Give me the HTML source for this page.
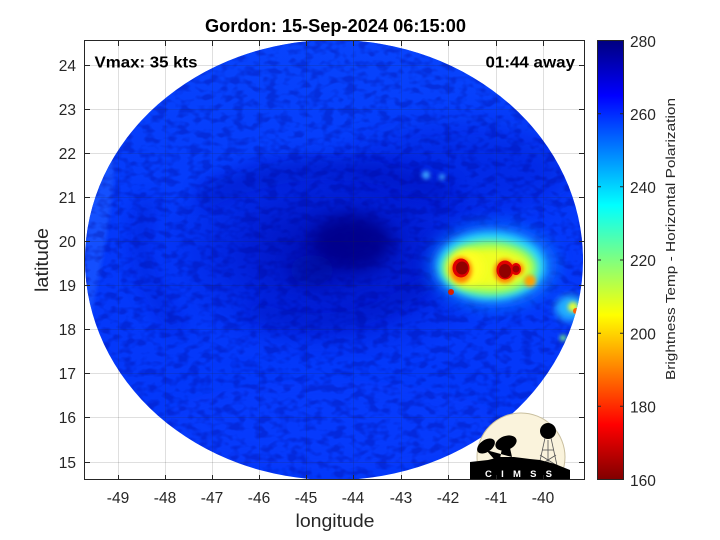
<!DOCTYPE html>
<html><head><meta charset="utf-8">
<style>
html,body{margin:0;padding:0;background:#fff;}
svg{display:block;}
text{font-family:"Liberation Sans",sans-serif;fill:#262626;}
</style></head><body>
<svg width="720" height="540" viewBox="0 0 720 540" xmlns="http://www.w3.org/2000/svg">
<defs>
<clipPath id="ax"><rect x="85" y="41" width="499" height="439"/></clipPath>
<clipPath id="disk"><ellipse cx="334" cy="260" rx="249" ry="220"/></clipPath>
<linearGradient id="cb" x1="0" y1="0" x2="0" y2="1">
 <stop offset="0" stop-color="#000080"/>
 <stop offset="0.125" stop-color="#0000ff"/>
 <stop offset="0.375" stop-color="#00ffff"/>
 <stop offset="0.625" stop-color="#ffff00"/>
 <stop offset="0.875" stop-color="#ff0000"/>
 <stop offset="1" stop-color="#800000"/>
</linearGradient>
<linearGradient id="topg" x1="0" y1="0" x2="0" y2="1">
 <stop offset="0" stop-color="#0a4cff" stop-opacity="0.6"/>
 <stop offset="0.3" stop-color="#0a4cff" stop-opacity="0.2"/>
 <stop offset="0.45" stop-color="#0a4cff" stop-opacity="0"/>
</linearGradient>
<radialGradient id="darkc" cx="0.5" cy="0.5" r="0.5">
 <stop offset="0" stop-color="#0006a0" stop-opacity="0.9"/>
 <stop offset="0.5" stop-color="#000cbc" stop-opacity="0.55"/>
 <stop offset="1" stop-color="#0014d0" stop-opacity="0"/>
</radialGradient>
<filter id="b2" x="-50%" y="-50%" width="200%" height="200%"><feGaussianBlur stdDeviation="2"/></filter>
<filter id="b4" x="-50%" y="-50%" width="200%" height="200%"><feGaussianBlur stdDeviation="4"/></filter>
<filter id="b8" x="-50%" y="-50%" width="200%" height="200%"><feGaussianBlur stdDeviation="8"/></filter>
<filter id="b14" x="-50%" y="-50%" width="200%" height="200%"><feGaussianBlur stdDeviation="14"/></filter>
<filter id="noise" filterUnits="userSpaceOnUse" x="80" y="35" width="510" height="450" color-interpolation-filters="sRGB">
 <feTurbulence type="fractalNoise" baseFrequency="0.09 0.13" numOctaves="2" seed="11"/>
 <feColorMatrix type="matrix" values="0 0 0 0 0  0 0 0 0 0  0 0 0 0 0.55  4 0 0 0 -1.8"/>
</filter>
</defs>

<g clip-path="url(#ax)">
<g clip-path="url(#disk)">
 <rect x="80" y="35" width="510" height="450" fill="#0438fa"/>
 <rect x="80" y="35" width="510" height="450" fill="url(#topg)"/>
 <path d="M85,160 L115,160 C112,220 100,270 90,320 L85,320 Z" fill="#1a5aff" opacity="0.7" filter="url(#b2)"/>
 <ellipse cx="460" cy="170" rx="110" ry="45" fill="#0014d0" opacity="0.45" filter="url(#b14)"/>
 <ellipse cx="335" cy="250" rx="180" ry="115" fill="url(#darkc)"/>
 <path d="M200,200 Q320,140 450,195" fill="none" stroke="#000cb8" stroke-width="22" opacity="0.45" filter="url(#b8)"/>
 <path d="M250,310 Q350,345 430,280" fill="none" stroke="#000cb8" stroke-width="18" opacity="0.45" filter="url(#b8)"/>
 <path d="M150,200 Q120,260 180,330" fill="none" stroke="#0010c0" stroke-width="18" opacity="0.35" filter="url(#b8)"/>
 <ellipse cx="352" cy="242" rx="40" ry="27" fill="#00068a" opacity="0.9" filter="url(#b8)"/>
 <ellipse cx="312" cy="270" rx="22" ry="15" fill="#00089a" opacity="0.6" filter="url(#b8)"/>
 <ellipse cx="330" cy="425" rx="170" ry="45" fill="#0840ff" opacity="0.35" filter="url(#b14)"/>
 <rect x="80" y="35" width="510" height="450" fill="#000" filter="url(#noise)" opacity="0.28"/>

 <ellipse cx="493" cy="266" rx="64" ry="42" fill="#0a7cff" opacity="0.85" filter="url(#b8)"/>
 <ellipse cx="491" cy="266" rx="54" ry="34" fill="#25d5ff" filter="url(#b4)"/>
 <ellipse cx="490" cy="268" rx="47" ry="27" fill="#90ff60" filter="url(#b4)"/>
 <ellipse cx="490" cy="268" rx="40" ry="20" fill="#f0ff20" filter="url(#b4)"/>
 <ellipse cx="466" cy="268" rx="18" ry="18" fill="#ffff20" filter="url(#b4)"/>
 <ellipse cx="461" cy="270" rx="11" ry="13" fill="#ff8000" filter="url(#b2)"/>
 <ellipse cx="505" cy="271" rx="11" ry="12" fill="#ff8000" filter="url(#b2)"/>
 <circle cx="517" cy="269" r="6.5" fill="#ff8000" filter="url(#b2)"/>
 <circle cx="530" cy="281" r="6" fill="#ffa000" filter="url(#b2)"/>
 <ellipse cx="461" cy="268" rx="8.5" ry="9.5" fill="#e00000"/>
 <ellipse cx="505" cy="270" rx="8.5" ry="9.5" fill="#e00000"/>
 <ellipse cx="516" cy="269" rx="5" ry="6" fill="#e00000"/>
 <ellipse cx="462" cy="268" rx="6" ry="6.5" fill="#900000"/>
 <ellipse cx="505" cy="271" rx="6" ry="7" fill="#900000"/>
 <circle cx="516" cy="269" r="3.5" fill="#a00000"/>
 <circle cx="451" cy="292" r="3" fill="#d82000"/>
 <circle cx="426" cy="175" r="4" fill="#3aa0ff" filter="url(#b2)"/>
 <circle cx="442" cy="177" r="3" fill="#3aa0ff" filter="url(#b2)"/>
 <ellipse cx="570" cy="308" rx="15" ry="13" fill="#20b0ff" filter="url(#b4)"/>
 <circle cx="573" cy="307" r="5" fill="#e8ff30" filter="url(#b2)"/>
 <circle cx="576" cy="311" r="3" fill="#ff6000"/>
 <circle cx="563" cy="338" r="3" fill="#80ff80" filter="url(#b2)"/>
</g>
</g>

<g stroke="#262626" stroke-opacity="0.15" stroke-width="1">
 <line x1="118.5" y1="41" x2="118.5" y2="480"/>
 <line x1="165.5" y1="41" x2="165.5" y2="480"/>
 <line x1="212.5" y1="41" x2="212.5" y2="480"/>
 <line x1="259.5" y1="41" x2="259.5" y2="480"/>
 <line x1="306.5" y1="41" x2="306.5" y2="480"/>
 <line x1="353.5" y1="41" x2="353.5" y2="480"/>
 <line x1="401.5" y1="41" x2="401.5" y2="480"/>
 <line x1="448.5" y1="41" x2="448.5" y2="480"/>
 <line x1="496.5" y1="41" x2="496.5" y2="480"/>
 <line x1="543.5" y1="41" x2="543.5" y2="480"/>
 <line x1="85" y1="65.5" x2="584" y2="65.5"/>
 <line x1="85" y1="109.5" x2="584" y2="109.5"/>
 <line x1="85" y1="153.5" x2="584" y2="153.5"/>
 <line x1="85" y1="197.5" x2="584" y2="197.5"/>
 <line x1="85" y1="241.5" x2="584" y2="241.5"/>
 <line x1="85" y1="285.5" x2="584" y2="285.5"/>
 <line x1="85" y1="329.5" x2="584" y2="329.5"/>
 <line x1="85" y1="373.5" x2="584" y2="373.5"/>
 <line x1="85" y1="417.5" x2="584" y2="417.5"/>
 <line x1="85" y1="462.5" x2="584" y2="462.5"/>
</g>

<g clip-path="url(#ax)">
 <circle cx="521" cy="457" r="44" fill="#faf3dc" stroke="#c9bf9f" stroke-width="1"/>
 <g stroke="#555" stroke-width="0.8" fill="none">
  <line x1="545" y1="438" x2="538" y2="470"/>
  <line x1="551" y1="438" x2="558" y2="470"/>
  <line x1="548" y1="440" x2="548" y2="470"/>
  <line x1="540" y1="455" x2="556" y2="465"/>
  <line x1="556" y1="455" x2="540" y2="465"/>
  <line x1="542" y1="450" x2="554" y2="450"/>
 </g>
 <circle cx="548" cy="431" r="8" fill="#000"/>
 <ellipse cx="486" cy="446" rx="10" ry="6" fill="#000" transform="rotate(-35 486 446)"/>
 <ellipse cx="506" cy="443" rx="11" ry="7" fill="#000" transform="rotate(-20 506 443)"/>
 <path d="M486,450 L494,459 L500,459 L502,448 L510,448 L512,457 Z" fill="#000"/>
 <polygon points="470,462 488,460 500,457 514,457 522,458 530,459 540,460 555,464 570,470 570,480 470,480" fill="#000"/>
 <text x="485" y="477" font-size="9.5" font-weight="bold" textLength="67" lengthAdjust="spacing" style="fill:#fff">CIMSS</text>
</g>

<rect x="84.5" y="40.5" width="500" height="439" fill="none" stroke="#262626" stroke-width="1"/>
<g stroke="#262626" stroke-width="1">
 <path d="M118.5,480v-5M165.5,480v-5M212.5,480v-5M259.5,480v-5M306.5,480v-5M353.5,480v-5M401.5,480v-5M448.5,480v-5M496.5,480v-5M543.5,480v-5"/>
 <path d="M118.5,41v5M165.5,41v5M212.5,41v5M259.5,41v5M306.5,41v5M353.5,41v5M401.5,41v5M448.5,41v5M496.5,41v5M543.5,41v5"/>
 <path d="M85,65.5h5M85,109.5h5M85,153.5h5M85,197.5h5M85,241.5h5M85,285.5h5M85,329.5h5M85,373.5h5M85,417.5h5M85,462.5h5"/>
 <path d="M584,65.5h-5M584,109.5h-5M584,153.5h-5M584,197.5h-5M584,241.5h-5M584,285.5h-5M584,329.5h-5M584,373.5h-5M584,417.5h-5M584,462.5h-5"/>
</g>

<g font-size="15.5" text-anchor="middle">
 <text x="118" y="503">-49</text>
 <text x="165" y="503">-48</text>
 <text x="212" y="503">-47</text>
 <text x="259" y="503">-46</text>
 <text x="306" y="503">-45</text>
 <text x="353" y="503">-44</text>
 <text x="401" y="503">-43</text>
 <text x="448" y="503">-42</text>
 <text x="496" y="503">-41</text>
 <text x="543" y="503">-40</text>
</g>
<g font-size="15.5" text-anchor="end">
 <text x="76" y="71">24</text>
 <text x="76" y="115">23</text>
 <text x="76" y="159">22</text>
 <text x="76" y="203">21</text>
 <text x="76" y="247">20</text>
 <text x="76" y="291">19</text>
 <text x="76" y="335">18</text>
 <text x="76" y="379">17</text>
 <text x="76" y="423">16</text>
 <text x="76" y="468">15</text>
</g>

<text x="295.5" y="527" font-size="18" textLength="79" lengthAdjust="spacingAndGlyphs">longitude</text>
<text transform="translate(48,292) rotate(-90)" font-size="18" textLength="64" lengthAdjust="spacingAndGlyphs">latitude</text>

<text x="205" y="32" font-size="18" font-weight="bold" textLength="261" lengthAdjust="spacingAndGlyphs" style="fill:#000">Gordon: 15-Sep-2024 06:15:00</text>
<text x="94.5" y="67.5" font-size="16" font-weight="bold" textLength="103" lengthAdjust="spacingAndGlyphs" style="fill:#000">Vmax: 35 kts</text>
<text x="485.5" y="67.5" font-size="16" font-weight="bold" textLength="89.5" lengthAdjust="spacingAndGlyphs" style="fill:#000">01:44 away</text>

<rect x="597.5" y="40.5" width="26" height="439" fill="url(#cb)" stroke="#262626" stroke-width="1"/>
<g stroke="#262626" stroke-width="1">
 <path d="M623,113.7h-3M623,186.8h-3M623,260h-3M623,333.2h-3M623,406.3h-3"/>
 <path d="M598,113.7h3M598,186.8h3M598,260h3M598,333.2h3M598,406.3h3"/>
</g>
<g font-size="15.5">
 <text x="630" y="47">280</text>
 <text x="630" y="120">260</text>
 <text x="630" y="193">240</text>
 <text x="630" y="266">220</text>
 <text x="630" y="339.5">200</text>
 <text x="630" y="412.5">180</text>
 <text x="630" y="486">160</text>
</g>
<text transform="translate(675,380) rotate(-90)" font-size="13" textLength="282" lengthAdjust="spacingAndGlyphs">Brightness Temp - Horizontal Polarization</text>
</svg>
</body></html>
